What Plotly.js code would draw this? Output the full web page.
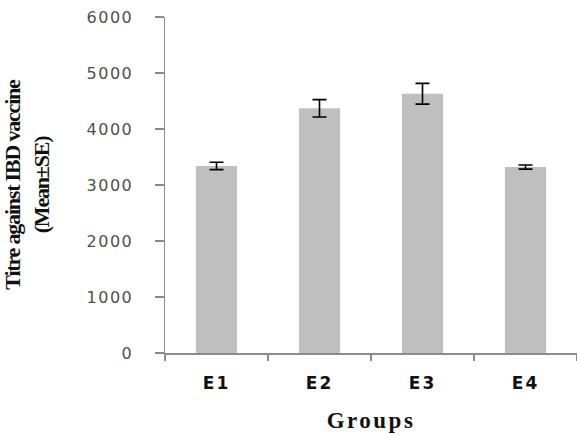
<!DOCTYPE html>
<html>
<head>
<meta charset="utf-8">
<script src="https://cdn.plot.ly/plotly-3.0.1.min.js"></script>
<style>
  html, body { margin: 0; padding: 0; background: #ffffff; }
  #chart { width: 577px; height: 436px; }
  .ytick text { letter-spacing: 1.5px; }
  .xtick text { letter-spacing: 2px; }
  .xtitle { letter-spacing: 2.5px; }
  .ytitle { letter-spacing: -1.2px; }
</style>
</head>
<body>
<div id="chart"></div>
<script>
const groups = ["E1", "E2", "E3", "E4"];
const meanTitre = [3340, 4370, 4630, 3320];
const seTitre = [65, 155, 185, 36];
const yTickValues = [0, 1000, 2000, 3000, 4000, 5000, 6000];
const yTickLabels = ["0", "1000", "2000", "3000", "4000", "5000", "6000"];

const trace = {
  type: "bar",
  x: groups,
  y: meanTitre,
  marker: { color: "#bfbfbf", line: { width: 0 } },
  error_y: {
    type: "data",
    array: seTitre,
    visible: true,
    color: "#000000",
    thickness: 1.6,
    width: 7
  },
  hoverinfo: "x+y"
};

const layout = {
  width: 577,
  height: 436,
  paper_bgcolor: "#ffffff",
  plot_bgcolor: "#ffffff",
  margin: { l: 165, r: 0, t: 17, b: 83 },
  bargap: 0.6,
  showlegend: false,
  xaxis: {
    type: "category",
    range: [-0.5, 3.5],
    showline: true,
    linecolor: "#8c8c8c",
    linewidth: 1.5,
    ticks: "outside",
    tickson: "boundaries",
    ticklen: 6,
    tickcolor: "#8c8c8c",
    tickwidth: 1.5,
    ticklabelstandoff: 14,
    tickfont: { family: "DejaVu Sans", size: 17, color: "#111111", weight: "bold" },
    showgrid: false,
    zeroline: false,
    title: {
      text: "Groups",
      font: { family: "Liberation Serif", size: 23, color: "#111111", weight: "bold" },
      standoff: 20
    }
  },
  yaxis: {
    range: [0, 6000],
    tickvals: yTickValues,
    ticktext: yTickLabels,
    showline: true,
    linecolor: "#8c8c8c",
    linewidth: 1.5,
    ticks: "outside",
    ticklen: 9,
    tickcolor: "#8c8c8c",
    tickwidth: 1.5,
    ticklabelstandoff: 18,
    tickfont: { family: "DejaVu Sans", size: 16, color: "#505050" },
    showgrid: false,
    zeroline: false,
    title: {
      text: "Titre against IBD vaccine<br>(Mean±SE)",
      font: { family: "Liberation Serif", size: 22, color: "#111111", weight: "bold" },
      standoff: 37
    }
  }
};

Plotly.newPlot("chart", [trace], layout, { displayModeBar: false, staticPlot: true });
</script>
</body>
</html>
